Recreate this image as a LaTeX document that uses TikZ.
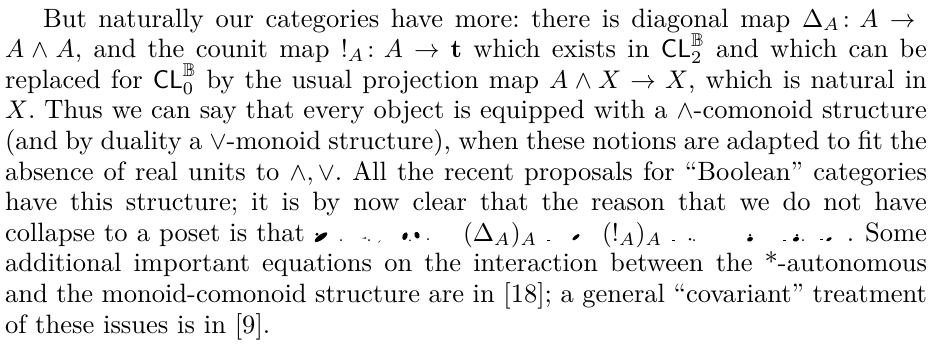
\documentclass[tikz,border=0pt]{standalone}
\usepackage{amsmath,amssymb}
% one drawing unit, used both for coordinates and inside the text
\newlength\px
\setlength\px{0.392pt}
\tikzset{
  para/.style={anchor=base west, inner sep=0pt, outer sep=0pt},
  ink/.style={fill=black, draw=none}
}
\begin{document}
\begin{tikzpicture}[x=0.392pt, y=-0.392pt]
\useasboundingbox (0,0) rectangle (935,352);
\node[para] (body) at (5,27) {\parbox[t]{922\px}{%
\fontsize{10.4pt}{30.6\px}\selectfont\frenchspacing
\hspace*{38\px}But naturally our categories have more: there is diagonal map $\Delta_A\colon A\to{}$\linebreak
$A\wedge A$, and the counit map $!_A\colon A\to\mathbf{t}$ which exists in $\mathsf{CL}_2^{\mathbb{B}}$ and which can be\linebreak
replaced for $\mathsf{CL}_0^{\mathbb{B}}$ by the usual projection map $A\wedge X\to X$, which is natural in\linebreak
$X$. Thus we can say that every object is equipped with a $\wedge$-comonoid structure\linebreak
(and by duality a $\vee$-monoid structure), when these notions are adapted to fit the\linebreak
absence of real units to $\wedge,\vee$. All the recent proposals for “Boolean” categories\linebreak
have this structure; it is by now clear that the reason that we do not have\parfillskip=0pt\par
\noindent\hbox to\linewidth{\rlap{\makebox[300\px][s]{collapse to a poset is that}}\hskip458\px\rlap{$(\Delta_A)_A$}\hskip139\px\rlap{$(!_A)_A$}\hskip245\px.\hfill Some}\par
\parfillskip=0pt plus 1fil
\noindent additional important equations on the interaction between the *-autonomous\linebreak
and the monoid-comonoid structure are in [18]; a general “covariant” treatment\linebreak
of these issues is in [9].}};
% broken glyph fragments on the line with the two families of maps
\begin{scope}[shift={(0,241.2)}]
  \fill[ink, rotate around={35:(321,-4)}] (321,-4) ellipse (7.5 and 2.6);
  \fill[ink] (317,-7) circle (1.6);
  \fill[ink] (341,-1) circle (1);
  \fill[ink] (362,-3) -- (366,-4) -- (366,-2.5) -- cycle;
  \fill[ink] (369,-1) circle (1);
  \fill[ink] (379,0) -- (380.5,-1) -- (378.5,2) -- cycle;
  \fill[ink, rotate around={-20:(405,-5)}] (405,-5) ellipse (2.5 and 4);
  \fill[ink] (410,-1) circle (0.9);
  \fill[ink, rotate around={20:(417,-6)}] (417,-6) ellipse (2.5 and 3.5);
  \fill[ink] (428,-2) circle (1);
  \fill[ink] (547,0) rectangle (550,-1);
  \fill[ink, rotate around={40:(576,-4)}] (576,-4) ellipse (4.5 and 1.8);
  \fill[ink] (672,0) rectangle (675,-1);
  \fill[ink] (690,-2) circle (1.3);
  \fill[ink] (694,-1) circle (1);
  \fill[ink] (750,-6) circle (1.3);
  \fill[ink, rotate around={20:(750,-2)}] (750,-2) ellipse (3 and 2.2);
  \fill[ink] (783,0) rectangle (786,-1);
  \fill[ink] (797,-6) circle (1.4);
  \fill[ink, rotate around={20:(796,-2)}] (796,-2) ellipse (3.2 and 2.2);
  \fill[ink] (803,-1) circle (1);
  \fill[ink] (820,-1) rectangle (823,-2);
  \fill[ink, rotate around={30:(829,-2)}] (829,-2) ellipse (3 and 1.5);
\end{scope}
\end{tikzpicture}
\end{document}
